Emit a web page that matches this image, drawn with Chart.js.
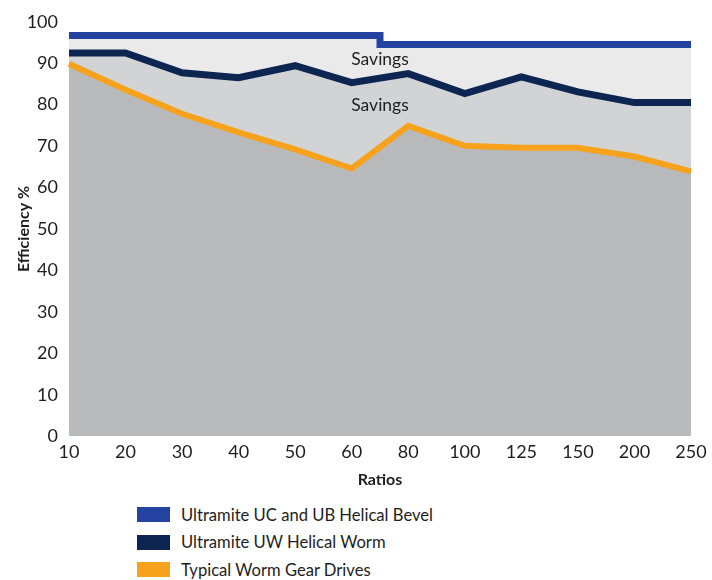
<!DOCTYPE html>
<html>
<head>
<meta charset="utf-8">
<script src="https://cdn.jsdelivr.net/npm/chart.js@4.4.1/dist/chart.umd.min.js"></script>
<style>
  body { margin: 0; background: #fff; font-family: Lato, "Open Sans", sans-serif; }
  .wrap { width: 712px; height: 580px; position: relative; }
  #chart { display: block; }
  .legend { position: absolute; left: 137px; top: 501px; }
  .legend-item { display: flex; align-items: center; height: 27.5px; font-size: 16.6px; color: #1e1e1e; }
  .legend-box { width: 33px; height: 15px; margin-right: 11px; }
</style>
</head>
<body>
<div class="wrap">
  <canvas id="chart" width="712" height="495"></canvas>
  <div class="legend" id="legend"></div>
</div>
<script>
// chart data
const ratios = ["10", "20", "30", "40", "50", "60", "80", "100", "125", "150", "200", "250"];
const bevelEff = [96.7, 96.7, 96.7, 96.7, 96.7, 96.7, 94.5, 94.5, 94.5, 94.5, 94.5, 94.5];
const uwWormEff = [92.5, 92.5, 87.7, 86.5, 89.4, 85.3, 87.5, 82.7, 86.7, 83.1, 80.5, 80.5];
const typicalEff = [89.9, 83.6, 77.8, 73.3, 69.2, 64.6, 74.9, 70.1, 69.6, 69.6, 67.5, 63.9];
const yTicks = [0, 10, 20, 30, 40, 50, 60, 70, 80, 90, 100];
const seriesNames = ["Ultramite UC and UB Helical Bevel", "Ultramite UW Helical Worm", "Typical Worm Gear Drives"];
const savingsNotes = [
  { text: "Savings", x: 5.5, y: 91 },
  { text: "Savings", x: 5.5, y: 79.8 },
];

const lineColors = ["#2442a0", "#0c2551", "#f7a21c"];
const fillColors = ["#eaeaeb", "#d2d3d5", "#b8b9bb"];
const FONT = "Lato, 'Open Sans', sans-serif";

// draw the "Savings" text in data coordinates
const savingsLabels = {
  id: "savingsLabels",
  afterDatasetsDraw(chart) {
    const { ctx, scales } = chart;
    ctx.save();
    ctx.font = "17.5px " + FONT;
    ctx.fillStyle = "#1e1e1e";
    ctx.textAlign = "center";
    ctx.textBaseline = "middle";
    savingsNotes.forEach((n) => {
      ctx.fillText(n.text, scales.x.getPixelForValue(n.x), scales.y.getPixelForValue(n.y));
    });
    ctx.restore();
  },
};

const chart = new Chart(document.getElementById("chart"), {
  type: "line",
  data: {
    labels: ratios,
    datasets: [
      {
        label: seriesNames[0],
        data: bevelEff,
        stepped: "middle",
        borderColor: lineColors[0],
        backgroundColor: fillColors[0],
        borderWidth: 7,
        fill: "+1",
      },
      {
        label: seriesNames[1],
        data: uwWormEff,
        borderColor: lineColors[1],
        backgroundColor: fillColors[1],
        borderWidth: 7,
        fill: "+1",
      },
      {
        label: seriesNames[2],
        data: typicalEff,
        borderColor: lineColors[2],
        backgroundColor: fillColors[2],
        borderWidth: 6,
        fill: "origin",
      },
    ],
  },
  options: {
    responsive: false,
    animation: false,
    layout: { padding: { top: 10, right: 21, left: 10, bottom: 2 } },
    elements: {
      point: { radius: 0, hoverRadius: 0 },
      line: { tension: 0, borderCapStyle: "butt", borderJoinStyle: "miter" },
    },
    plugins: {
      legend: { display: false },
      tooltip: { enabled: false },
      filler: { drawTime: "beforeDatasetsDraw" },
    },
    scales: {
      x: {
        offset: false,
        grid: { display: false, drawTicks: false },
        border: { display: false },
        ticks: { color: "#1e1e1e", font: { family: FONT, size: 18 }, padding: 5, maxRotation: 0, autoSkip: false },
        title: { display: true, text: "Ratios", color: "#1e1e1e", font: { family: FONT, size: 16, weight: "bold" }, padding: { top: 2 } },
      },
      y: {
        min: 0,
        max: 100,
        afterBuildTicks: (axis) => { axis.ticks = yTicks.map((v) => ({ value: v })); },
        afterFit: (axis) => { axis.width = 59; },
        grid: { display: false, drawTicks: false },
        border: { display: false },
        ticks: { color: "#1e1e1e", font: { family: FONT, size: 18 }, padding: 11 },
        title: { display: true, text: "Efficiency %", color: "#1e1e1e", font: { family: FONT, size: 16, weight: "bold" }, padding: { top: 4, bottom: 4 } },
      },
    },
  },
  plugins: [savingsLabels],
});

// legend as a plain list
const legend = document.getElementById("legend");
seriesNames.forEach((name, i) => {
  const item = document.createElement("div");
  item.className = "legend-item";
  item.innerHTML = '<span class="legend-box" style="background:' + lineColors[i] + '"></span>' + name;
  legend.appendChild(item);
});
</script>
</body>
</html>
